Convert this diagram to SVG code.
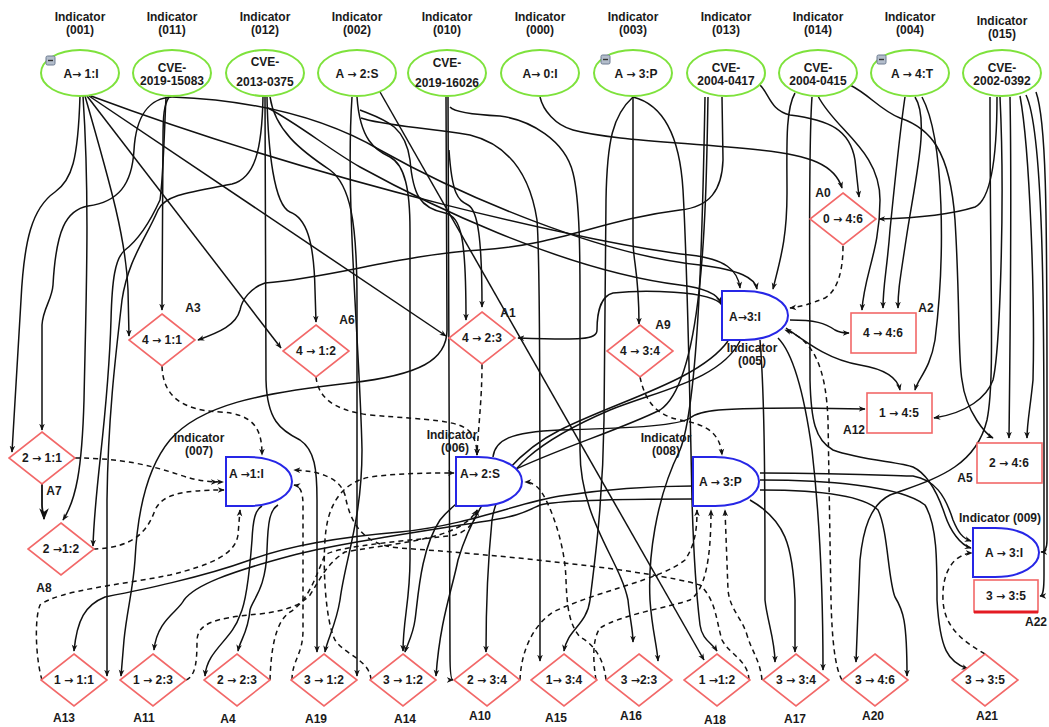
<svg xmlns="http://www.w3.org/2000/svg" width="1049" height="727" viewBox="0 0 1049 727">
<style>
  text { font-family: "Liberation Sans", Arial, sans-serif; font-weight: bold; font-size: 12px; fill: #1a1a1a; }
  .c { text-anchor: middle; }
  .ar { font-family: "DejaVu Sans", sans-serif; font-size: 11px; }
  .ind { fill: #fff; stroke: #7ee23c; stroke-width: 2; }
  .gate { fill: #fff; stroke: #2626e6; stroke-width: 2; }
  .dia { fill: #fff; stroke: #f26868; stroke-width: 1.6; }
  .box { fill: #fff; stroke: #f26868; stroke-width: 1.6; }
  .btn { fill: #b3bdcb; stroke: #6c7b91; stroke-width: 1; }
  .s { fill: none; stroke: #111; stroke-width: 1.5; marker-end: url(#ah); }
  .d { fill: none; stroke: #111; stroke-width: 1.5; stroke-dasharray: 5 4; marker-end: url(#ah); }
</style>
<defs>
  <marker id="ah" viewBox="0 0 10 10" refX="9" refY="5" markerWidth="7" markerHeight="7" markerUnits="userSpaceOnUse" orient="auto">
    <path d="M0,1 L10,5 L0,9 L3,5 z" fill="#111"/>
  </marker>
  <marker id="ahb" viewBox="0 0 10 10" refX="9" refY="5" markerWidth="12" markerHeight="12" markerUnits="userSpaceOnUse" orient="auto">
    <path d="M0,1 L10,5 L0,9 L3,5 z" fill="#111"/>
  </marker>
  <marker id="ah2" viewBox="0 0 20 10" refX="19" refY="5" markerWidth="14" markerHeight="7" markerUnits="userSpaceOnUse" orient="auto">
    <path d="M0,1 L10,5 L0,9 L3,5 z M9,1 L19,5 L9,9 L12,5 z" fill="#111"/>
  </marker>
</defs>
<rect width="1049" height="727" fill="#fff"/>

<g id="connectors">
  <!-- solid edges -->
  <path class="s" d="M80,96 C78,160 72,180 55,192 C32,208 24,240 21,300 L12,452"/>
  <path class="s" d="M172,97 C150,98 136,115 134,150 C132,185 118,202 88,206 C66,210 56,230 53,285 C52,300 43,308 42,325 L42,430"/>
  <path class="s" d="M83,96 C90,200 86,300 84,400 C82,470 76,500 63,520"/>
  <path class="s" d="M166,97 C164,140 163,180 160,200 C150,222 138,240 125,250 C115,258 112,280 111,320 C108,420 95,480 93,546"/>
  <path class="s" d="M85,96 C112,190 126,240 128,290 L129,336"/>
  <path class="s" d="M169,97 C164,105 163,115 163,140 L162,310"/>
  <path class="s" d="M263,97 C262,150 255,178 232,184 C190,192 165,195 158,210 C145,240 128,260 122,300 C115,360 108,420 107,500 L107,676"/>
  <path class="s" d="M693,486 C640,486 600,490 560,496 C520,502 470,525 400,532 C340,537 290,545 250,560 C200,578 140,590 105,597 C85,605 77,620 74,651"/>
  <path class="s" d="M693,499 C640,499 560,500 540,505 C525,512 520,516 480,522 C400,535 330,545 290,556 C230,572 195,585 184,600 C178,612 157,620 154,650"/>
  <path class="s" d="M446,97 L447,330 C447,360 420,375 350,383 C260,393 200,405 170,440 C145,470 137,520 135,560 C133,590 127,610 124,640 L121,676"/>
  <path class="s" d="M87,96 L281,348"/>
  <path class="s" d="M267,97 C268,150 274,205 290,212 C306,218 314,240 315,290 L316,322"/>
  <path class="s" d="M89,96 L446,336"/>
  <path class="s" d="M360,110 C385,120 405,125 410,160 C413,195 420,208 445,213 C462,217 466,240 466,320"/>
  <path class="s" d="M449,150 C452,195 458,200 468,205 C478,210 482,240 482,307"/>
  <path class="s" d="M722,305 C712,290 640,290 613,293 C600,296 597,315 597,330 C597,340 580,340 518,338"/>
  <path class="s" d="M722,97 L723,160 C722,190 710,207 680,210 C600,220 560,245 480,250 C400,255 330,278 265,283 C250,288 242,300 240,310 C236,325 220,332 198,340"/>
  <path class="s" d="M265,97 L266,380 C267,420 280,430 300,440 C315,450 317,470 317,500 L317,652"/>
  <path class="s" d="M352,97 C345,200 360,350 362,450 C362,520 345,560 340,600 C336,625 327,640 325,652"/>
  <path class="s" d="M270,97 C275,130 300,150 330,170 C350,185 357,220 357,300 L357,676"/>
  <path class="s" d="M357,97 C360,140 375,150 390,157 C405,165 410,190 410,230 L410,560 C410,600 403,620 403,651"/>
  <path class="s" d="M708,97 C706,200 705,380 660,410 C600,440 480,470 440,520 C420,550 418,600 415,620 C413,635 407,645 405,652"/>
  <path class="s" d="M728,341 C700,380 620,400 560,430 C500,460 470,520 458,560 C452,590 440,620 436,676"/>
  <path class="s" d="M448,97 L450,655 C450,672 451,680 453,680"/>
  <path class="s" d="M740,341 C720,380 660,390 610,410 C540,440 500,470 492,520 C488,560 486,600 486,652"/>
  <path class="s" d="M361,118 C380,125 420,127 470,135 C510,145 530,175 537,220 C540,260 540,400 540,661"/>
  <path class="s" d="M633,97 C613,115 607,140 606,200 L604,420 C603,500 595,560 590,600 C587,625 567,630 564,651"/>
  <path class="s" d="M450,107 C455,113 480,115 500,116 C530,120 565,140 573,173 C580,200 580,260 580,300 L580,450 C580,520 620,560 628,600 C630,620 633,630 633,642"/>
  <path class="s" d="M705,97 C703,200 700,400 680,450 C655,500 648,560 650,600 C652,630 657,645 658,661"/>
  <path class="s" d="M633,97 C665,105 680,140 683,190 C687,260 690,400 692,500 C694,570 697,600 700,625 C702,640 712,643 717,651"/>
  <path class="s" d="M380,92 L704,660"/>
  <path class="s" d="M633,97 L633,240 C633,262 639,272 639,324"/>
  <path class="s" d="M760,340 C765,400 765,500 765,600 C767,620 775,640 775,662"/>
  <path class="s" d="M750,500 C785,520 793,545 795,600 L795,652"/>
  <path class="s" d="M778,338 C795,355 805,400 812,450 C820,520 823,600 823,670"/>
  <path class="s" d="M990,97 C990,300 995,380 987,420 C975,470 930,480 890,495 C870,505 863,530 860,560 L856,662"/>
  <path class="s" d="M760,490 C800,490 860,492 878,510 C888,530 888,580 895,597 C903,610 907,620 907,676"/>
  <path class="s" d="M760,480 C820,480 900,485 925,505 C937,525 937,560 937,600 C940,650 948,662 968,669"/>
  <path class="s" d="M540,97 C543,110 555,125 573,130 C610,140 680,142 760,150 C810,155 835,165 842,188"/>
  <path class="s" d="M760,85 C770,95 770,110 790,115 C830,120 850,130 855,160 L859,197"/>
  <path class="s" d="M997,97 C997,160 990,200 975,207 C950,215 920,218 879,219"/>
  <path class="s" d="M818,96 C835,130 880,150 880,200 C880,250 864,275 862,310"/>
  <path class="s" d="M905,97 C900,130 895,180 890,230 C887,270 883,285 883,308"/>
  <path class="s" d="M915,97 C930,120 915,180 906,240 C900,280 898,290 898,308"/>
  <path class="s" d="M790,320 C815,320 825,323 835,330 C840,333 845,333 849,333"/>
  <path class="s" d="M493,457 C495,440 510,432 560,430 C640,428 680,425 690,418 C700,410 720,408 800,408 L865,409"/>
  <path class="s" d="M786,328 C810,345 830,360 860,365 C890,370 898,380 900,390"/>
  <path class="s" d="M922,97 C945,140 945,260 935,340 C930,370 918,378 915,390"/>
  <path class="s" d="M1000,97 C1005,200 1000,350 993,380 C987,397 967,413 934,418"/>
  <path class="s" d="M850,85 C870,95 880,110 900,118 C930,128 950,150 955,220 C960,300 958,360 962,380 C966,413 987,435 993,438"/>
  <path class="s" d="M1010,97 C1012,200 1010,350 1009,438"/>
  <path class="s" d="M1020,96 C1030,150 1035,300 1033,380 C1030,410 1027,423 1027,438"/>
  <path class="s" d="M760,473 C850,473 900,476 913,476 C935,480 945,495 953,520 C958,532 962,538 971,541"/>
  <path class="s" d="M812,97 C808,150 810,300 810,380 C811,420 815,440 833,450 C860,460 900,462 913,467 C930,475 940,500 945,515 C950,530 960,545 971,548"/>
  <path class="s" d="M1036,92 C1046,120 1047,200 1047,400 L1047,540 C1047,548 1045,552 1041,552"/>
  <path class="s" d="M1026,95 C1043,130 1044,300 1044,450 L1044,575 C1044,590 1043,596 1040,596"/>
  <path class="s" d="M795,93 C785,110 787,150 787,193 C787,240 780,260 773,289"/>
  <path class="s" d="M91,96 C330,185 600,245 690,255 C725,259 738,270 740,288"/>
  <path class="s" d="M172,97 C250,100 320,115 380,150 C460,195 600,255 700,265 C740,270 755,278 757,289"/>
  <path class="s" d="M268,108 C300,125 330,150 360,167 C420,200 560,270 680,285 C705,288 718,295 721,303"/>
  <path class="s" d="M278,505 C270,510 268,520 267,550 C266,590 252,600 250,610 C248,633 240,640 238,651"/>
  <path class="s" d="M262,506 C255,510 253,520 252,540 C249,580 245,605 240,615 C232,640 207,650 205,676"/>
  <path d="M42,483 L42,505 C42,512 44,514 44,519" fill="none" stroke="#111" stroke-width="1.8" marker-end="url(#ahb)"/>

  <!-- dashed edges -->
  <path class="d" d="M162,366 C163,395 180,410 220,412 C255,414 262,430 262,455"/>
  <path class="d" d="M316,377 C318,395 330,410 370,415 C430,420 460,420 470,432 C476,440 477,448 477,455"/>
  <path class="d" d="M482,364 C482,400 478,430 477,455"/>
  <path class="d" d="M75,458 C120,458 150,465 180,475 C195,480 205,482 224,482" style="marker-end:url(#ah2)"/>
  <path class="d" d="M93,549 C135,548 148,530 155,510 C162,495 180,490 224,490"/>
  <path class="d" d="M42,680 C36,660 34,620 40,605 C60,590 120,585 170,575 C210,565 235,555 238,535 L240,510"/>
  <path class="d" d="M292,680 C292,660 303,655 303,630 L303,505 C303,492 300,486 294,485"/>
  <path class="d" d="M371,680 C370,660 345,655 335,640 C325,620 322,560 326,530 C330,500 345,482 370,477 C400,473 430,473 454,473"/>
  <path class="d" d="M749,680 C748,660 730,655 722,640 C716,620 716,600 700,585 C650,570 500,555 400,548 C360,545 350,520 345,495 C340,478 320,471 294,470"/>
  <path class="d" d="M270,680 C271,650 275,622 290,612 C310,600 318,570 325,555 C340,545 420,540 455,535 C470,530 476,520 477,510"/>
  <path class="d" d="M186,680 C196,676 197,660 197,640 C198,625 210,618 260,614 C290,610 300,605 310,595 C320,580 325,565 345,552 C400,542 460,540 477,510"/>
  <path class="d" d="M606,680 C604,660 595,645 580,637 C570,625 567,610 566,580 C565,540 548,500 540,490 C535,484 530,482 525,482"/>
  <path class="d" d="M520,680 C521,655 530,628 553,612 C600,590 660,580 685,560 C695,545 697,530 697,510"/>
  <path class="d" d="M596,680 C593,660 592,640 600,628 C620,615 670,607 690,600 C705,590 711,560 711,510"/>
  <path class="d" d="M762,680 C760,660 752,652 747,635 C742,618 730,610 728,590 L725,510"/>
  <path class="d" d="M640,377 C645,400 655,415 680,420 C710,425 720,435 722,455"/>
  <path class="d" d="M843,246 C843,270 838,290 825,298 C810,304 800,307 790,308"/>
  <path class="d" d="M842,680 C835,668 832,640 831,600 L828,420 C826,370 815,340 785,330"/>
  <path class="d" d="M985,654 C960,640 944,625 943,600 C942,580 948,565 958,558 C963,555 967,553 972,553"/>
</g>

<!-- top row: indicator ellipses -->
<g id="ind001">
  <text class="c" x="80" y="21">Indicator</text><text class="c" x="80" y="34">(001)</text>
  <ellipse class="ind" cx="80" cy="73" rx="39" ry="23"/>
  <text class="c" x="81" y="78">A<tspan class="ar">→</tspan> 1:I</text>
  <rect class="btn" x="46" y="56" width="9" height="9" rx="1.5"/><path d="M48,60.5 H53" stroke="#333" stroke-width="1.4"/>
</g>
<g id="ind011">
  <text class="c" x="172" y="21">Indicator</text><text class="c" x="172" y="34">(011)</text>
  <ellipse class="ind" cx="172" cy="73" rx="39" ry="23"/>
  <text class="c" x="172" y="72">CVE-</text><text class="c" x="172" y="85">2019-15083</text>
</g>
<g id="ind012">
  <text class="c" x="265" y="21">Indicator</text><text class="c" x="265" y="34">(012)</text>
  <ellipse class="ind" cx="265" cy="73" rx="39" ry="23"/>
  <text class="c" x="265" y="66">CVE-</text><text class="c" x="265" y="86">2013-0375</text>
</g>
<g id="ind002">
  <text class="c" x="357" y="21">Indicator</text><text class="c" x="357" y="34">(002)</text>
  <ellipse class="ind" cx="357" cy="73" rx="39" ry="23"/>
  <text class="c" x="357" y="78">A <tspan class="ar">→</tspan> 2:S</text>
</g>
<g id="ind010">
  <text class="c" x="447" y="21">Indicator</text><text class="c" x="447" y="34">(010)</text>
  <ellipse class="ind" cx="447" cy="73" rx="39" ry="23"/>
  <text class="c" x="447" y="67">CVE-</text><text class="c" x="447" y="87">2019-16026</text>
</g>
<g id="ind000">
  <text class="c" x="540" y="21">Indicator</text><text class="c" x="540" y="34">(000)</text>
  <ellipse class="ind" cx="540" cy="73" rx="39" ry="23"/>
  <text class="c" x="540" y="78">A<tspan class="ar">→</tspan> 0:I</text>
</g>
<g id="ind003">
  <text class="c" x="633" y="21">Indicator</text><text class="c" x="633" y="34">(003)</text>
  <ellipse class="ind" cx="633" cy="73" rx="39" ry="23"/>
  <text class="c" x="636" y="78">A <tspan class="ar">→</tspan> 3:P</text>
  <rect class="btn" x="601" y="55" width="9" height="9" rx="1.5"/><path d="M603,59.5 H608" stroke="#333" stroke-width="1.4"/>
</g>
<g id="ind013">
  <text class="c" x="726" y="21">Indicator</text><text class="c" x="726" y="34">(013)</text>
  <ellipse class="ind" cx="726" cy="73" rx="39" ry="23"/>
  <text class="c" x="726" y="72">CVE-</text><text class="c" x="726" y="85">2004-0417</text>
</g>
<g id="ind014">
  <text class="c" x="818" y="21">Indicator</text><text class="c" x="818" y="34">(014)</text>
  <ellipse class="ind" cx="818" cy="73" rx="39" ry="23"/>
  <text class="c" x="818" y="72">CVE-</text><text class="c" x="818" y="85">2004-0415</text>
</g>
<g id="ind004">
  <text class="c" x="910" y="21">Indicator</text><text class="c" x="910" y="34">(004)</text>
  <ellipse class="ind" cx="910" cy="73" rx="39" ry="23"/>
  <text class="c" x="912" y="78">A <tspan class="ar">→</tspan> 4:T</text>
  <rect class="btn" x="877" y="55" width="9" height="9" rx="1.5"/><path d="M879,59.5 H884" stroke="#333" stroke-width="1.4"/>
</g>
<g id="ind015">
  <text class="c" x="1002" y="25">Indicator</text><text class="c" x="1002" y="38">(015)</text>
  <ellipse class="ind" cx="1002" cy="73" rx="39" ry="23"/>
  <text class="c" x="1002" y="72">CVE-</text><text class="c" x="1002" y="85">2002-0392</text>
</g>

<!-- AND gates -->
<g id="gate007">
  <text class="c" x="199" y="442">Indicator</text><text class="c" x="199" y="455">(007)</text>
  <path class="gate" d="M226,457 h22 c28,0 44,12 44,24.5 c0,12.5 -16,24.5 -44,24.5 h-22 z"/>
  <text x="229" y="478">A <tspan class="ar">→</tspan>1:I</text>
</g>
<g id="gate006">
  <path class="gate" d="M456,457 h22 c28,0 44,12 44,24.5 c0,12.5 -16,24.5 -44,24.5 h-22 z"/>
  <text x="460" y="478">A<tspan class="ar">→</tspan> 2:S</text>
  <text class="c" x="452" y="439">Indicator</text><text class="c" x="455" y="452">(006)</text>
</g>
<g id="gate008">
  <text class="c" x="666" y="442">Indicator</text><text class="c" x="666" y="455">(008)</text>
  <path class="gate" d="M693,457 h22 c28,0 44,12 44,24.5 c0,12.5 -16,24.5 -44,24.5 h-22 z"/>
  <text x="699" y="486">A <tspan class="ar">→</tspan> 3:P</text>
</g>
<g id="gate005">
  <path class="gate" d="M722,291 h22 c28,0 44,12 44,24.5 c0,12.5 -16,24.5 -44,24.5 h-22 z"/>
  <text x="729" y="321">A<tspan class="ar">→</tspan>3:I</text>
  <text class="c" x="752" y="352">Indicator</text><text class="c" x="752" y="365">(005)</text>
</g>
<g id="gate009">
  <text class="c" x="1000" y="522">Indicator (009)</text>
  <path class="gate" d="M973,528 h22 c28,0 44,12 44,24.5 c0,12.5 -16,24.5 -44,24.5 h-22 z"/>
  <text x="985" y="557">A <tspan class="ar">→</tspan> 3:I</text>
</g>

<!-- diamonds, middle -->
<g id="A3"><polygon class="dia" points="162,314 195,340 162,366 129,340"/><text class="c" x="162" y="344">4 <tspan class="ar">→</tspan> 1:1</text><text class="c" x="193" y="312">A3</text></g>
<g id="A6"><polygon class="dia" points="316,325 349,351 316,377 283,351"/><text class="c" x="316" y="355">4 <tspan class="ar">→</tspan> 1:2</text><text class="c" x="347" y="324">A6</text></g>
<g id="A7"><polygon class="dia" points="42,432 75,458 42,484 9,458"/><text class="c" x="42" y="462">2 <tspan class="ar">→</tspan> 1:1</text><text class="c" x="54" y="495">A7</text></g>
<g id="A8"><polygon class="dia" points="61,523 94,549 61,575 28,549"/><text class="c" x="61" y="553">2 <tspan class="ar">→</tspan>1:2</text><text class="c" x="44" y="592">A8</text></g>
<g id="A1"><polygon class="dia" points="482,312 515,338 482,364 449,338"/><text class="c" x="482" y="342">4 <tspan class="ar">→</tspan> 2:3</text><text class="c" x="508" y="317">A1</text></g>
<g id="A9"><polygon class="dia" points="640,325 673,351 640,377 607,351"/><text class="c" x="640" y="355">4 <tspan class="ar">→</tspan> 3:4</text><text class="c" x="663" y="329">A9</text></g>
<g id="A0"><polygon class="dia" points="843,193 876,219 843,245 810,219"/><text class="c" x="843" y="223">0 <tspan class="ar">→</tspan> 4:6</text><text class="c" x="823" y="197">A0</text></g>

<!-- boxes -->
<g id="A2"><rect class="box" x="851" y="313" width="65" height="40"/><text class="c" x="883" y="337">4 <tspan class="ar">→</tspan> 4:6</text><text class="c" x="926" y="312">A2</text></g>
<g id="A12"><rect class="box" x="867" y="393" width="65" height="40"/><text class="c" x="899" y="417">1 <tspan class="ar">→</tspan> 4:5</text><text class="c" x="854" y="434">A12</text></g>
<g id="A5"><rect class="box" x="977" y="443" width="65" height="40"/><text class="c" x="1009" y="467">2 <tspan class="ar">→</tspan> 4:6</text><text class="c" x="965" y="482">A5</text></g>
<g id="A22"><rect class="box" x="974" y="580" width="64" height="32"/><path d="M974,612 H1038" stroke="#e41b23" stroke-width="3"/><text class="c" x="1006" y="600">3 <tspan class="ar">→</tspan> 3:5</text><text x="1047" y="626" text-anchor="end">A22</text></g>

<!-- diamonds, bottom row -->
<g id="A13"><polygon class="dia" points="74,654 107,680 74,706 41,680"/><text class="c" x="74" y="684">1 <tspan class="ar">→</tspan> 1:1</text><text class="c" x="64" y="722">A13</text></g>
<g id="A11"><polygon class="dia" points="153,654 186,680 153,706 120,680"/><text class="c" x="153" y="684">1 <tspan class="ar">→</tspan> 2:3</text><text class="c" x="144" y="722">A11</text></g>
<g id="A4"><polygon class="dia" points="237,654 270,680 237,706 204,680"/><text class="c" x="237" y="684">2 <tspan class="ar">→</tspan> 2:3</text><text class="c" x="228" y="723">A4</text></g>
<g id="A19"><polygon class="dia" points="324,654 357,680 324,706 291,680"/><text class="c" x="324" y="684">3 <tspan class="ar">→</tspan> 1:2</text><text class="c" x="316" y="723">A19</text></g>
<g id="A14"><polygon class="dia" points="403,654 436,680 403,706 370,680"/><text class="c" x="403" y="684">3 <tspan class="ar">→</tspan> 1:2</text><text class="c" x="405" y="723">A14</text></g>
<g id="A10"><polygon class="dia" points="487,654 520,680 487,706 454,680"/><text class="c" x="487" y="684">2 <tspan class="ar">→</tspan> 3:4</text><text class="c" x="480" y="720">A10</text></g>
<g id="A15"><polygon class="dia" points="564,654 597,680 564,706 531,680"/><text class="c" x="564" y="684">1<tspan class="ar">→</tspan> 3:4</text><text class="c" x="556" y="722">A15</text></g>
<g id="A16"><polygon class="dia" points="639,654 672,680 639,706 606,680"/><text class="c" x="639" y="684">3 <tspan class="ar">→</tspan>2:3</text><text class="c" x="631" y="720">A16</text></g>
<g id="A18"><polygon class="dia" points="717,654 750,680 717,706 684,680"/><text class="c" x="717" y="684">1 <tspan class="ar">→</tspan>1:2</text><text class="c" x="715" y="724">A18</text></g>
<g id="A17"><polygon class="dia" points="796,654 829,680 796,706 763,680"/><text class="c" x="796" y="684">3 <tspan class="ar">→</tspan> 3:4</text><text class="c" x="795" y="723">A17</text></g>
<g id="A20"><polygon class="dia" points="875,654 908,680 875,706 842,680"/><text class="c" x="875" y="684">3 <tspan class="ar">→</tspan> 4:6</text><text class="c" x="873" y="720">A20</text></g>
<g id="A21"><polygon class="dia" points="985,654 1018,680 985,706 952,680"/><text class="c" x="985" y="684">3 <tspan class="ar">→</tspan> 3:5</text><text class="c" x="987" y="720">A21</text></g>
</svg>
